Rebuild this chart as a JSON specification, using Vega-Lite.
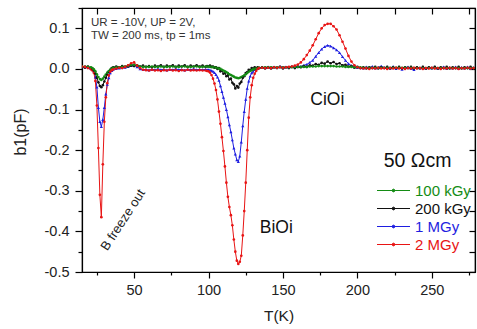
{
  "$schema": "https://vega.github.io/schema/vega-lite/v6.json",
  "width": 393,
  "height": 264,
  "autosize": {"type": "none"},
  "padding": {"left": 82, "top": 8, "right": 2, "bottom": 57},
  "background": "white",
  "config": {
    "view": {"stroke": "#000", "strokeWidth": 1.2},
    "font": "Liberation Sans",
    "axis": {"grid": false, "domainColor": "#000", "tickColor": "#000", "domainWidth": 1.2, "tickWidth": 1.2, "labelColor": "#222", "titleColor": "#222", "labelFont": "Liberation Sans", "titleFont": "Liberation Sans", "titleFontWeight": "normal"}
  },
  "datasets": {
    "curves": [
      {"T":15,"g":0.006,"k":0.005,"b":0.005,"r":0.006},
      {"T":17,"g":0.006,"k":0.003,"b":0.006,"r":0.005},
      {"T":19,"g":0.005,"k":0.006,"b":0.004,"r":0.002},
      {"T":21,"g":0.004,"k":0.002,"b":0.002,"r":-0.001},
      {"T":22,"g":0.002,"k":0.0,"b":-0.001,"r":-0.004},
      {"T":23,"g":-0.001,"k":-0.004,"b":-0.006,"r":-0.01},
      {"T":24,"g":-0.006,"k":-0.012,"b":-0.02,"r":-0.03},
      {"T":25,"g":-0.013,"k":-0.022,"b":-0.045,"r":-0.09},
      {"T":26,"g":-0.02,"k":-0.033,"b":-0.095,"r":-0.195},
      {"T":27,"g":-0.025,"k":-0.042,"b":-0.13,"r":-0.31},
      {"T":28,"g":-0.027,"k":-0.045,"b":-0.142,"r":-0.365},
      {"T":29,"g":-0.024,"k":-0.04,"b":-0.125,"r":-0.235},
      {"T":30,"g":-0.019,"k":-0.031,"b":-0.095,"r":-0.13},
      {"T":31,"g":-0.014,"k":-0.022,"b":-0.062,"r":-0.07},
      {"T":32,"g":-0.009,"k":-0.014,"b":-0.038,"r":-0.035},
      {"T":33,"g":-0.005,"k":-0.007,"b":-0.022,"r":-0.016},
      {"T":34,"g":-0.002,"k":-0.002,"b":-0.01,"r":-0.007},
      {"T":35,"g":0.001,"k":0.002,"b":-0.004,"r":-0.003},
      {"T":36,"g":0.003,"k":0.004,"b":-0.001,"r":-0.001},
      {"T":38,"g":0.004,"k":0.006,"b":0.001,"r":0.001},
      {"T":40,"g":0.004,"k":0.004,"b":0.002,"r":0.003},
      {"T":42,"g":0.005,"k":0.007,"b":0.003,"r":0.002},
      {"T":44,"g":0.006,"k":0.005,"b":0.004,"r":0.005},
      {"T":46,"g":0.008,"k":0.006,"b":0.006,"r":0.009},
      {"T":48,"g":0.01,"k":0.008,"b":0.009,"r":0.014},
      {"T":50,"g":0.01,"k":0.007,"b":0.01,"r":0.016},
      {"T":52,"g":0.008,"k":0.009,"b":0.005,"r":0.008},
      {"T":54,"g":0.006,"k":0.006,"b":0.0,"r":0.002},
      {"T":56,"g":0.005,"k":0.008,"b":-0.002,"r":-0.002},
      {"T":58,"g":0.005,"k":0.005,"b":-0.001,"r":-0.003},
      {"T":60,"g":0.005,"k":0.007,"b":-0.003,"r":-0.004},
      {"T":62,"g":0.006,"k":0.004,"b":-0.001,"r":-0.002},
      {"T":64,"g":0.005,"k":0.008,"b":-0.002,"r":-0.004},
      {"T":66,"g":0.005,"k":0.006,"b":0.0,"r":-0.003},
      {"T":68,"g":0.006,"k":0.009,"b":-0.002,"r":-0.005},
      {"T":70,"g":0.005,"k":0.005,"b":-0.001,"r":-0.003},
      {"T":72,"g":0.005,"k":0.008,"b":-0.003,"r":-0.004},
      {"T":74,"g":0.006,"k":0.006,"b":-0.001,"r":-0.002},
      {"T":76,"g":0.006,"k":0.009,"b":-0.002,"r":-0.004},
      {"T":78,"g":0.005,"k":0.005,"b":0.0,"r":-0.003},
      {"T":80,"g":0.005,"k":0.008,"b":-0.002,"r":-0.005},
      {"T":82,"g":0.006,"k":0.006,"b":-0.001,"r":-0.003},
      {"T":84,"g":0.006,"k":0.009,"b":-0.003,"r":-0.004},
      {"T":86,"g":0.005,"k":0.005,"b":-0.001,"r":-0.002},
      {"T":88,"g":0.005,"k":0.008,"b":-0.002,"r":-0.004},
      {"T":90,"g":0.006,"k":0.006,"b":0.0,"r":-0.003},
      {"T":92,"g":0.006,"k":0.009,"b":-0.002,"r":-0.004},
      {"T":94,"g":0.005,"k":0.006,"b":-0.001,"r":-0.003},
      {"T":96,"g":0.005,"k":0.008,"b":-0.002,"r":-0.004},
      {"T":98,"g":0.006,"k":0.005,"b":-0.001,"r":-0.004},
      {"T":99,"g":0.006,"k":0.007,"b":-0.002,"r":-0.005},
      {"T":100,"g":0.006,"k":0.006,"b":-0.002,"r":-0.006},
      {"T":101,"g":0.005,"k":0.008,"b":-0.003,"r":-0.009},
      {"T":102,"g":0.005,"k":0.005,"b":-0.004,"r":-0.015},
      {"T":103,"g":0.004,"k":0.006,"b":-0.006,"r":-0.024},
      {"T":104,"g":0.004,"k":0.003,"b":-0.009,"r":-0.036},
      {"T":105,"g":0.003,"k":0.004,"b":-0.014,"r":-0.052},
      {"T":106,"g":0.002,"k":0.0,"b":-0.02,"r":-0.075},
      {"T":107,"g":0.001,"k":0.002,"b":-0.028,"r":-0.105},
      {"T":108,"g":0.0,"k":-0.006,"b":-0.042,"r":-0.135},
      {"T":109,"g":-0.002,"k":-0.004,"b":-0.056,"r":-0.168},
      {"T":110,"g":-0.004,"k":-0.012,"b":-0.07,"r":-0.202},
      {"T":111,"g":-0.006,"k":-0.01,"b":-0.085,"r":-0.24},
      {"T":112,"g":-0.008,"k":-0.018,"b":-0.1,"r":-0.28},
      {"T":113,"g":-0.01,"k":-0.016,"b":-0.118,"r":-0.315},
      {"T":114,"g":-0.013,"k":-0.026,"b":-0.138,"r":-0.34},
      {"T":115,"g":-0.015,"k":-0.024,"b":-0.155,"r":-0.36},
      {"T":116,"g":-0.017,"k":-0.034,"b":-0.175,"r":-0.385},
      {"T":117,"g":-0.019,"k":-0.038,"b":-0.195,"r":-0.42},
      {"T":118,"g":-0.021,"k":-0.048,"b":-0.21,"r":-0.45},
      {"T":119,"g":-0.022,"k":-0.042,"b":-0.224,"r":-0.472},
      {"T":120,"g":-0.023,"k":-0.046,"b":-0.228,"r":-0.48},
      {"T":121,"g":-0.022,"k":-0.036,"b":-0.215,"r":-0.475},
      {"T":122,"g":-0.02,"k":-0.032,"b":-0.18,"r":-0.46},
      {"T":123,"g":-0.018,"k":-0.022,"b":-0.14,"r":-0.41},
      {"T":124,"g":-0.016,"k":-0.018,"b":-0.105,"r":-0.35},
      {"T":125,"g":-0.013,"k":-0.01,"b":-0.075,"r":-0.28},
      {"T":126,"g":-0.01,"k":-0.008,"b":-0.048,"r":-0.2},
      {"T":127,"g":-0.007,"k":-0.002,"b":-0.03,"r":-0.12},
      {"T":128,"g":-0.005,"k":-0.003,"b":-0.018,"r":-0.07},
      {"T":129,"g":-0.003,"k":0.002,"b":-0.01,"r":-0.04},
      {"T":130,"g":-0.001,"k":0.0,"b":-0.006,"r":-0.022},
      {"T":131,"g":0.0,"k":0.004,"b":-0.002,"r":-0.012},
      {"T":132,"g":0.001,"k":0.001,"b":0.0,"r":-0.005},
      {"T":133,"g":0.002,"k":0.004,"b":0.002,"r":0.0},
      {"T":134,"g":0.003,"k":0.002,"b":0.003,"r":0.002},
      {"T":136,"g":0.003,"k":0.004,"b":0.004,"r":0.003},
      {"T":138,"g":0.004,"k":0.001,"b":0.003,"r":0.002},
      {"T":140,"g":0.004,"k":0.004,"b":0.005,"r":0.003},
      {"T":142,"g":0.004,"k":0.001,"b":0.003,"r":0.002},
      {"T":144,"g":0.004,"k":0.004,"b":0.005,"r":0.004},
      {"T":146,"g":0.004,"k":0.002,"b":0.003,"r":0.003},
      {"T":148,"g":0.004,"k":0.005,"b":0.006,"r":0.004},
      {"T":150,"g":0.004,"k":0.001,"b":0.004,"r":0.003},
      {"T":152,"g":0.004,"k":0.004,"b":0.005,"r":0.004},
      {"T":154,"g":0.004,"k":0.002,"b":0.004,"r":0.005},
      {"T":156,"g":0.004,"k":0.005,"b":0.006,"r":0.006},
      {"T":158,"g":0.005,"k":0.002,"b":0.005,"r":0.008},
      {"T":160,"g":0.005,"k":0.005,"b":0.007,"r":0.011},
      {"T":162,"g":0.005,"k":0.004,"b":0.006,"r":0.016},
      {"T":164,"g":0.005,"k":0.007,"b":0.009,"r":0.024},
      {"T":166,"g":0.005,"k":0.005,"b":0.011,"r":0.034},
      {"T":168,"g":0.006,"k":0.009,"b":0.016,"r":0.045},
      {"T":170,"g":0.006,"k":0.008,"b":0.021,"r":0.058},
      {"T":172,"g":0.006,"k":0.012,"b":0.031,"r":0.073},
      {"T":174,"g":0.007,"k":0.01,"b":0.04,"r":0.088},
      {"T":176,"g":0.007,"k":0.015,"b":0.049,"r":0.1},
      {"T":178,"g":0.007,"k":0.013,"b":0.055,"r":0.108},
      {"T":180,"g":0.007,"k":0.018,"b":0.058,"r":0.111},
      {"T":182,"g":0.007,"k":0.014,"b":0.056,"r":0.111},
      {"T":184,"g":0.007,"k":0.017,"b":0.052,"r":0.105},
      {"T":186,"g":0.006,"k":0.012,"b":0.047,"r":0.097},
      {"T":188,"g":0.006,"k":0.014,"b":0.04,"r":0.083},
      {"T":190,"g":0.006,"k":0.009,"b":0.03,"r":0.067},
      {"T":192,"g":0.005,"k":0.01,"b":0.021,"r":0.05},
      {"T":194,"g":0.005,"k":0.006,"b":0.013,"r":0.032},
      {"T":196,"g":0.005,"k":0.007,"b":0.008,"r":0.018},
      {"T":198,"g":0.004,"k":0.003,"b":0.005,"r":0.009},
      {"T":200,"g":0.004,"k":0.005,"b":0.003,"r":0.004},
      {"T":202,"g":0.004,"k":0.002,"b":0.004,"r":0.002},
      {"T":204,"g":0.003,"k":0.004,"b":0.002,"r":0.001},
      {"T":206,"g":0.003,"k":0.001,"b":0.005,"r":0.002},
      {"T":208,"g":0.003,"k":0.004,"b":0.003,"r":0.0},
      {"T":210,"g":0.003,"k":0.002,"b":0.006,"r":0.002},
      {"T":212,"g":0.003,"k":0.005,"b":0.002,"r":0.001},
      {"T":214,"g":0.003,"k":0.001,"b":0.004,"r":0.003},
      {"T":216,"g":0.003,"k":0.004,"b":0.007,"r":0.001},
      {"T":218,"g":0.003,"k":0.002,"b":0.003,"r":0.002},
      {"T":220,"g":0.003,"k":0.005,"b":0.005,"r":0.0},
      {"T":222,"g":0.003,"k":0.001,"b":0.002,"r":0.002},
      {"T":224,"g":0.003,"k":0.004,"b":0.006,"r":0.001},
      {"T":226,"g":0.003,"k":0.002,"b":0.001,"r":0.003},
      {"T":228,"g":0.003,"k":0.005,"b":0.004,"r":0.001},
      {"T":230,"g":0.003,"k":0.001,"b":-0.001,"r":0.002},
      {"T":232,"g":0.003,"k":0.004,"b":0.003,"r":0.0},
      {"T":234,"g":0.003,"k":0.002,"b":0.005,"r":0.002},
      {"T":236,"g":0.003,"k":0.005,"b":0.001,"r":0.001},
      {"T":238,"g":0.002,"k":0.001,"b":-0.002,"r":0.003},
      {"T":240,"g":0.002,"k":0.004,"b":0.004,"r":0.001},
      {"T":242,"g":0.002,"k":0.002,"b":0.002,"r":0.002},
      {"T":244,"g":0.002,"k":0.005,"b":0.005,"r":0.0},
      {"T":246,"g":0.002,"k":0.001,"b":0.001,"r":0.002},
      {"T":248,"g":0.002,"k":0.004,"b":0.004,"r":0.001},
      {"T":250,"g":0.002,"k":0.002,"b":0.002,"r":0.003},
      {"T":252,"g":0.002,"k":0.005,"b":0.005,"r":0.001},
      {"T":254,"g":0.002,"k":0.001,"b":0.001,"r":0.002},
      {"T":256,"g":0.002,"k":0.004,"b":0.003,"r":0.0},
      {"T":258,"g":0.002,"k":0.002,"b":0.005,"r":0.002},
      {"T":260,"g":0.002,"k":0.005,"b":0.001,"r":0.001},
      {"T":262,"g":0.002,"k":0.001,"b":0.004,"r":0.003},
      {"T":264,"g":0.002,"k":0.004,"b":0.002,"r":0.001},
      {"T":266,"g":0.002,"k":0.002,"b":0.005,"r":0.002},
      {"T":268,"g":0.002,"k":0.005,"b":0.001,"r":0.0},
      {"T":270,"g":0.002,"k":0.001,"b":0.004,"r":0.002},
      {"T":272,"g":0.002,"k":0.004,"b":0.002,"r":0.001},
      {"T":274,"g":0.002,"k":0.002,"b":0.005,"r":0.003},
      {"T":276,"g":0.002,"k":0.005,"b":0.001,"r":0.001},
      {"T":278,"g":0.002,"k":0.002,"b":0.003,"r":0.002}
    ]
  },
  "layer": [
    {
      "data": {"name": "curves"},
      "transform": [{"fold": ["k", "g", "b", "r"], "as": ["dose", "b1"]}],
      "mark": {"type": "line", "strokeWidth": 1, "clip": true},
      "encoding": {
        "x": {"field": "T", "type": "quantitative", "scale": {"domain": [15, 279], "nice": false, "zero": false},
          "axis": {"orient": "bottom", "values": [25, 50, 75, 100, 125, 150, 175, 200, 225, 250, 275], "labelExpr": "datum.value % 50 === 0 ? datum.label : ''", "tickSize": {"condition": {"test": "datum.value % 50 === 0", "value": 6}, "value": 3}, "title": "T(K)", "labelFontSize": 14.5, "titleFontSize": 15.5, "labelPadding": 5, "titlePadding": 12, "labelFlush": false}},
        "y": {"field": "b1", "type": "quantitative", "scale": {"domain": [-0.5, 0.15], "nice": false, "zero": false},
          "axis": {"orient": "left", "values": [-0.5, -0.45, -0.4, -0.35, -0.3, -0.25, -0.2, -0.15, -0.1, -0.05, 0, 0.05, 0.1, 0.15], "labelExpr": "abs(datum.value*10 - round(datum.value*10)) < 0.01 ? replace(format(datum.value, '.1f'), '\u2212', '-') : ''", "tickSize": {"condition": {"test": "abs(datum.value*10 - round(datum.value*10)) < 0.01", "value": 7}, "value": 4}, "title": "b1(pF)", "titleY": 123.5, "labelFontSize": 14.5, "titleFontSize": 16, "labelPadding": 6, "titlePadding": 16, "labelFlush": false}},
        "color": {"field": "dose", "type": "nominal",
          "scale": {"domain": ["g", "k", "b", "r"], "range": ["#148c14", "#111111", "#1e1ee0", "#e81414"]},
          "legend": {"orient": "none", "legendX": 304, "legendY": 175, "title": null, "padding": 0,
            "symbolType": "M-3,0H3M-0.25,0A0.25,0.25,0,1,1,0.25,0A0.25,0.25,0,1,1,-0.25,0Z",
            "symbolSize": 121, "symbolStrokeWidth": 1, "labelFontSize": 15, "labelOffset": 14, "rowPadding": 2,
            "labelExpr": "{'g': '100 kGy', 'k': '200 kGy', 'b': '1 MGy', 'r': '2 MGy'}[datum.label]",
            "encode": {"labels": {"update": {"fill": {"scale": "color", "field": "value"}}}, "symbols": {"update": {"fill": {"scale": "color", "field": "value"}}}}}}
      }
    },
    {
      "data": {"name": "curves"},
      "transform": [{"fold": ["k", "g", "b", "r"], "as": ["dose", "b1"]}, {"filter": "datum.dose === 'b'"}],
      "mark": {"type": "point", "shape": "triangle-up", "filled": true, "size": 10, "opacity": 1, "clip": true},
      "encoding": {
        "x": {"field": "T", "type": "quantitative",
          "axis": {"orient": "top", "values": [25, 50, 75, 100, 125, 150, 175, 200, 225, 250, 275], "labels": false, "title": null, "tickSize": -6}},
        "y": {"field": "b1", "type": "quantitative",
          "axis": {"orient": "right", "values": [-0.5, -0.45, -0.4, -0.35, -0.3, -0.25, -0.2, -0.15, -0.1, -0.05, 0, 0.05, 0.1, 0.15], "labels": false, "title": null, "tickSize": -6}},
        "color": {"field": "dose", "type": "nominal", "legend": null}
      }
    },
    {
      "data": {"name": "curves"},
      "transform": [{"fold": ["k", "g", "r"], "as": ["dose", "b1"]}],
      "mark": {"type": "point", "shape": "circle", "filled": true, "size": 7, "opacity": 1, "clip": true},
      "encoding": {
        "x": {"field": "T", "type": "quantitative", "axis": null},
        "y": {"field": "b1", "type": "quantitative", "axis": null},
        "color": {"field": "dose", "type": "nominal", "legend": null}
      }
    },
    {
      "data": {"values": [{"T": 21, "v": 0.113, "label": "UR = -10V, UP = 2V,"}, {"T": 21, "v": 0.082, "label": "TW = 200 ms, tp = 1ms"}]},
      "mark": {"type": "text", "align": "left", "baseline": "middle", "fontSize": 11.5, "color": "#333"},
      "encoding": {"x": {"field": "T", "type": "quantitative", "axis": null}, "y": {"field": "v", "type": "quantitative", "axis": null}, "text": {"field": "label"}}
    },
    {
      "data": {"values": [{"T": 179.8, "v": -0.076, "label": "CiOi"}, {"T": 145.5, "v": -0.392, "label": "BiOi"}]},
      "mark": {"type": "text", "align": "center", "baseline": "middle", "fontSize": 17.5, "color": "#111"},
      "encoding": {"x": {"field": "T", "type": "quantitative", "axis": null}, "y": {"field": "v", "type": "quantitative", "axis": null}, "text": {"field": "label"}}
    },
    {
      "data": {"values": [{"T": 240.4, "v": -0.2255, "label": "50 Ωcm"}]},
      "mark": {"type": "text", "align": "center", "baseline": "middle", "fontSize": 19.5, "color": "#111"},
      "encoding": {"x": {"field": "T", "type": "quantitative", "axis": null}, "y": {"field": "v", "type": "quantitative", "axis": null}, "text": {"field": "label"}}
    },
    {
      "data": {"values": [{"T": 42.6, "v": -0.372, "label": "B freeze out"}]},
      "mark": {"type": "text", "align": "center", "baseline": "middle", "fontSize": 13, "angle": -57, "color": "#222"},
      "encoding": {"x": {"field": "T", "type": "quantitative", "axis": null}, "y": {"field": "v", "type": "quantitative", "axis": null}, "text": {"field": "label"}}
    }
  ],
  "resolve": {"axis": {"x": "independent", "y": "independent"}}
}
